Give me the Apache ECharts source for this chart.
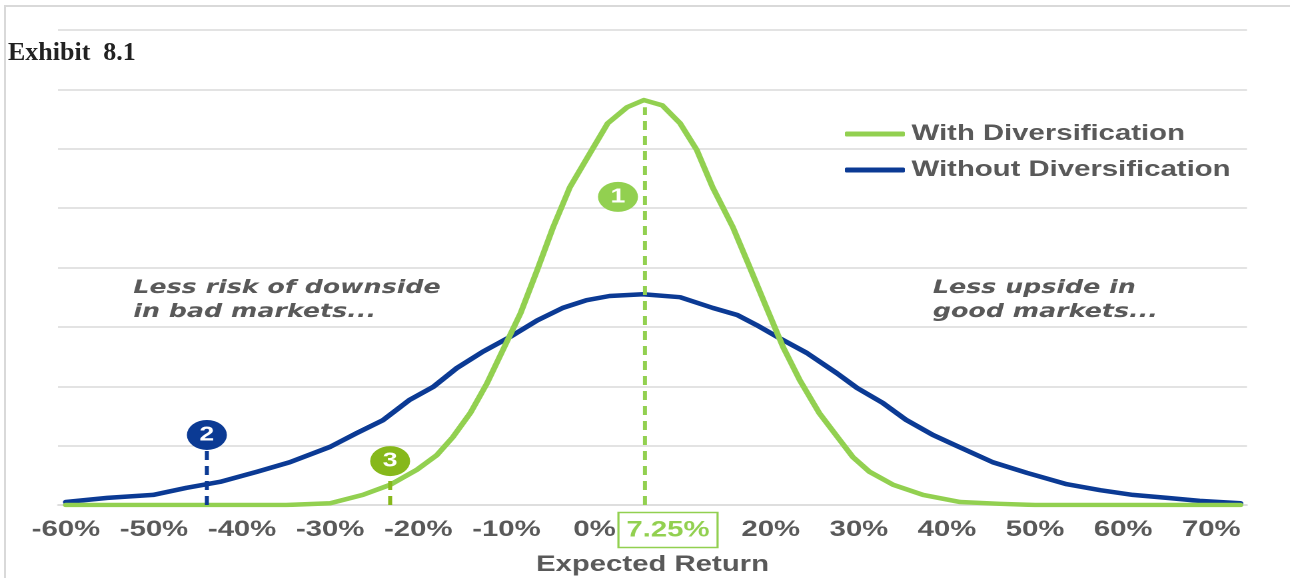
<!DOCTYPE html>
<html>
<head>
<meta charset="utf-8">
<script src="https://cdn.jsdelivr.net/npm/echarts@6/dist/echarts.min.js"></script>
<style>
html,body{margin:0;padding:0;background:#fff;overflow:hidden;width:1290px;height:578px;}
#frame{position:absolute;left:0;top:0;width:1290px;height:578px;}
#chart{position:absolute;left:0;top:0;width:968px;height:578px;transform:scaleX(1.332645);transform-origin:0 0;}
</style>
</head>
<body>
<div id="frame"></div>
<div id="chart"></div>
<script>
// ---- data ----
const titleText = 'Exhibit  8.1';
const xTicks = [-60, -50, -40, -30, -20, -10, 0, 10, 20, 30, 40, 50, 60, 70];
const xTickLabels = ['-60%', '-50%', '-40%', '-30%', '-20%', '-10%', '0%', '7.25%', '20%', '30%', '40%', '50%', '60%', '70%'];
const highlightTick = 10;

const withDivX = [-60, -45, -35, -30, -26.3, -23.2, -20.2, -17.9, -16.1, -14.1, -12.2, -10.4, -8.4, -6.5, -4.7, -2.8, -0.5, 1.5, 3.7, 5.6, 7.7, 9.7, 11.6, 13.4, 15.7, 17.6, 19.5, 21.4, 23.3, 25.5, 27.6, 29.3, 31.2, 33.9, 37.3, 41.5, 46, 50, 60, 73.3];
const withDivY = [0, 0, 0, 0.03, 0.17, 0.34, 0.59, 0.84, 1.14, 1.55, 2.05, 2.61, 3.23, 3.96, 4.68, 5.35, 5.93, 6.43, 6.70, 6.82, 6.73, 6.43, 5.98, 5.35, 4.68, 4.01, 3.33, 2.66, 2.10, 1.55, 1.14, 0.81, 0.56, 0.34, 0.17, 0.05, 0.02, 0, 0, 0];

const withoutDivX = [-60, -55.3, -50.1, -46.3, -42.5, -38.3, -34.6, -30, -27, -24, -21, -18.3, -15.6, -12.7, -9.6, -6.5, -3.6, -0.9, 1.7, 5.5, 9.7, 13.4, 16.2, 18.4, 21, 24.1, 27.5, 29.8, 32.7, 35.4, 38.4, 40.9, 45.2, 49.1, 53.6, 57.4, 61.1, 65, 68.7, 73.3];
const withoutDivY = [0.05, 0.12, 0.17, 0.29, 0.39, 0.56, 0.72, 0.98, 1.21, 1.43, 1.77, 1.99, 2.31, 2.58, 2.83, 3.11, 3.32, 3.45, 3.52, 3.55, 3.50, 3.32, 3.20, 3.03, 2.81, 2.56, 2.22, 1.97, 1.72, 1.43, 1.18, 1.01, 0.72, 0.54, 0.35, 0.25, 0.17, 0.12, 0.07, 0.03];

const markerLabels = ['1', '2', '3'];
const markerX = [2.66, -44.0, -23.2];
const markerY = [5.19, 1.18, 0.74];
const stemX = [5.72, -44.0, -23.2];
const stemTop = [6.7, 0.94, 0.5];

const seriesNames = ['With Diversification', 'Without Diversification'];
const noteLeft = 'Less risk of downside\nin bad markets...';
const noteRight = 'Less upside in\ngood markets...';
const axisName = 'Expected Return';

// ---- styles ----
const GREEN = '#92D050';
const BLUE = '#0B3A94';
const OLIVE = '#86B81B';
const markerColors = [GREEN, BLUE, OLIVE];
const GREY = '#595959';
const GRID = '#d9d9d9';
const SANS = '"Liberation Sans", Arial, sans-serif';

// background frame + title (unstretched)
const frame = echarts.init(document.getElementById('frame'));
frame.setOption({
  animation: false,
  title: {
    text: titleText, left: 8, top: 40, padding: 0,
    textStyle: {fontFamily: '"Liberation Serif", "Times New Roman", serif', fontWeight: 'bold', fontSize: 26, color: '#222222', lineHeight: 26}
  },
  graphic: [{
    type: 'polyline', silent: true,
    shape: {points: [[5, 578], [5, 6], [1290, 6]]},
    style: {stroke: GRID, lineWidth: 2, fill: null}
  }]
});

// main chart (drawn in a narrower box and stretched horizontally like the original)
const chart = echarts.init(document.getElementById('chart'), null, {devicePixelRatio: 2});

const pairs = (xs, ys) => xs.map((x, i) => [x, ys[i]]);

const stemSeries = stemX.map((x, i) => ({
  type: 'line', silent: true, symbol: 'none', z: 4,
  data: [[x, 0], [x, stemTop[i]]],
  lineStyle: {color: markerColors[i], width: 3, type: [9, 6]}
}));

chart.setOption({
  animation: false,
  backgroundColor: 'transparent',
  grid: {left: 43.5, right: 32.3, top: 30, bottom: 73, outerBoundsMode: 'none', containLabel: false},
  legend: {
    data: seriesNames, orient: 'vertical', left: 629, top: 118,
    itemWidth: 45, itemHeight: 5, itemGap: 14, icon: 'roundRect',
    textStyle: {color: GREY, fontSize: 22, fontWeight: 'bold', fontFamily: SANS, lineHeight: 22}
  },
  xAxis: {
    type: 'value', min: -60.9, max: 74.05,
    axisLine: {show: true, lineStyle: {color: GRID, width: 1.5}},
    axisTick: {show: false},
    splitLine: {show: false},
    axisLabel: {
      customValues: xTicks,
      formatter: v => {
        const i = xTicks.indexOf(v);
        const t = i >= 0 ? xTickLabels[i] : '';
        return v === highlightTick ? '{box|' + t + '}{sp|}' : t;
      },
      color: GREY, fontSize: 22, fontWeight: 'bold', fontFamily: SANS,
      verticalAlign: 'middle', margin: 25,
      rich: {
        box: {color: GREEN, fontSize: 22, fontWeight: 'bold', fontFamily: SANS,
              borderColor: GREEN, borderWidth: 1.6, padding: [7, 6, 6, 6], lineHeight: 22},
        sp: {width: 22}
      }
    },
    name: axisName, nameLocation: 'middle', nameGap: 49,
    nameTextStyle: {color: GREY, fontSize: 22, fontWeight: 'bold', fontFamily: SANS}
  },
  yAxis: {
    type: 'value', min: 0, max: 8, interval: 1,
    axisLabel: {show: false}, axisLine: {show: false}, axisTick: {show: false},
    splitLine: {lineStyle: {color: GRID, width: 1.5}}
  },
  graphic: [
    {type: 'text', left: 100, top: 276, silent: true,
     style: {text: noteLeft, fill: GREY, font: 'italic bold 19px "DejaVu Sans"', lineHeight: 24}},
    {type: 'text', left: 700, top: 276, silent: true,
     style: {text: noteRight, fill: GREY, font: 'italic bold 19px "DejaVu Sans"', lineHeight: 24}}
  ],
  series: [
    {name: seriesNames[1], type: 'line', data: pairs(withoutDivX, withoutDivY), symbol: 'none', z: 2,
     itemStyle: {color: BLUE}, lineStyle: {color: BLUE, width: 4.5, cap: 'round', join: 'round'}},
    {name: seriesNames[0], type: 'line', data: pairs(withDivX, withDivY), symbol: 'none', z: 3,
     itemStyle: {color: GREEN}, lineStyle: {color: GREEN, width: 4.5, cap: 'round', join: 'round'}},
    ...stemSeries,
    {type: 'scatter', silent: true, z: 5, symbolSize: 30,
     data: markerLabels.map((t, i) => ({name: t, value: [markerX[i], markerY[i]], itemStyle: {color: markerColors[i], opacity: 1}})),
     label: {show: true, position: 'inside', formatter: p => p.name, color: '#fff', fontSize: 20, fontWeight: 'bold',
             fontFamily: SANS}}
  ]
});
</script>
</body>
</html>
